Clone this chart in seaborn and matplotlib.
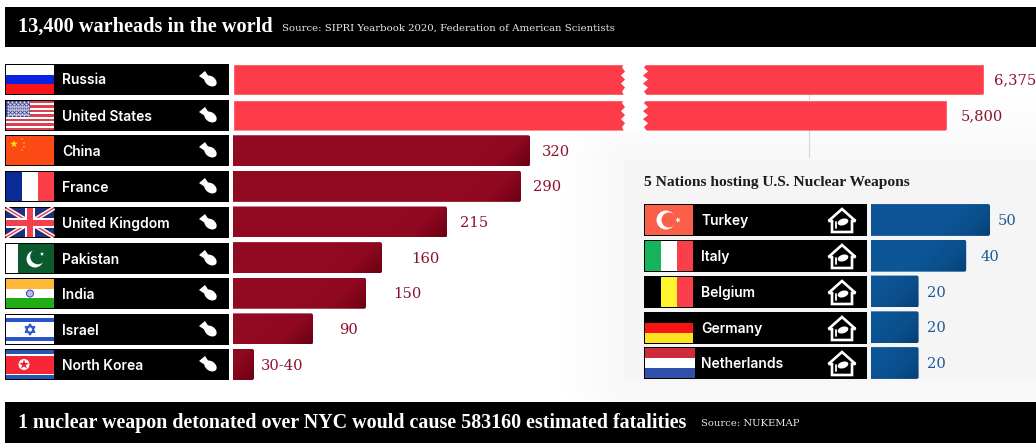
import numpy as np
import pandas as pd
import matplotlib
matplotlib.use('Agg')
import matplotlib.pyplot as plt
from matplotlib.patches import Rectangle, Ellipse, Polygon, Circle, FancyBboxPatch
from matplotlib.colors import LinearSegmentedColormap
import seaborn as sns

# warhead counts
countries = ['Russia', 'United States', 'China', 'France', 'United Kingdom',
             'Pakistan', 'India', 'Israel', 'North Korea']
count_labels = ['6,375', '5,800', '320', '290', '215', '160', '150', '90', '30-40']
# drawn bar lengths, the chart is not to scale
bar_lengths = [751, 714, 297, 288, 214, 149, 133, 80, 21]

# host nations
hosts = ['Turkey', 'Italy', 'Belgium', 'Germany', 'Netherlands']
host_counts = [50, 40, 20, 20, 20]

title = '13,400 warheads in the world'
source = 'Source: SIPRI Yearbook 2020, Federation of American Scientists'
inset_title = '5 Nations hosting U.S. Nuclear Weapons'
footer = '1 nuclear weapon detonated over NYC would cause 583160 estimated fatalities'
footer_source = 'Source: NUKEMAP'

W, H = 1036, 444
HEAD = 'Liberation Serif'
SERIF = 'DejaVu Serif'
SANS = 'Inter'

sns.set_style('white')
fig = plt.figure(figsize=(W / 100, H / 100), dpi=100, facecolor='white')


def pixel_axes(x0, y0, x1, y1):
    # axes placed by pixel box, y counted from the top of the picture
    return fig.add_axes([x0 / W, 1 - y1 / H, (x1 - x0) / W, (y1 - y0) / H])


bg = pixel_axes(0, 0, W, H)
bg.set_xlim(0, W)
bg.set_ylim(H, 0)
bg.axis('off')


def rect(x, y, w, h, color, **kw):
    bg.add_patch(Rectangle((x, y), w, h, facecolor=color, edgecolor='none', **kw))


def fit_text(x, y, s, width, **kw):
    # set the font size so the string spans the wanted number of pixels
    t = bg.text(x, y, s, fontsize=10, va='center', **kw)
    w = t.get_window_extent(fig.canvas.get_renderer()).width
    t.set_fontsize(10 * width / w)
    return t


def star(cx, cy, r, color, rot=-90):
    a = np.deg2rad(rot + np.arange(10) * 36)
    rad = np.where(np.arange(10) % 2 == 0, r, r * 0.4)
    bg.add_patch(Polygon(np.c_[cx + rad * np.cos(a), cy + rad * np.sin(a)],
                         facecolor=color, edgecolor='none', zorder=4))


def hstripes(x, y, w, h, colors):
    for i, c in enumerate(colors):
        rect(x, y + i * h / len(colors), w, h / len(colors), c, zorder=3)


def vstripes(x, y, w, h, colors):
    for i, c in enumerate(colors):
        rect(x + i * w / len(colors), y, w / len(colors), h, c, zorder=3)


def flag_russia(x, y, w, h):
    hstripes(x, y, w, h, ['#ffffff', '#0a22e0', '#f81414'])


def flag_usa(x, y, w, h):
    hstripes(x, y, w, h, ['#d9414f' if i % 2 == 0 else '#ffffff' for i in range(13)])
    rect(x, y, w * 0.5, h * 0.54, '#3d3f8f', zorder=3)
    for i in range(9):
        for j in range(5 if i % 2 else 6):
            bg.plot(x + 2 + j * 4 + (2 if i % 2 else 0), y + 1.5 + i * 1.6, '.',
                    color='white', ms=1, zorder=4)


def flag_china(x, y, w, h):
    rect(x, y, w, h, '#fc4a14', zorder=3)
    star(x + 8, y + 8, 4, '#ffe000')
    for dx, dy in [(16, 3), (18, 7), (18, 11), (16, 14)]:
        star(x + dx, y + dy, 1.2, '#ffe000')


def flag_france(x, y, w, h):
    vstripes(x, y, w, h, ['#0a2a96', '#ffffff', '#fb3f4a'])


def flag_uk(x, y, w, h):
    rect(x, y, w, h, '#20307e', zorder=3)
    for ya, yb in [(y, y + h), (y + h, y)]:
        bg.plot([x, x + w], [ya, yb], color='white', lw=3.2, zorder=4, solid_capstyle='butt')
        bg.plot([x, x + w], [ya, yb], color='#f2404f', lw=1.1, zorder=4, solid_capstyle='butt')
    rect(x + w / 2 - 5, y, 10, h, 'white', zorder=5)
    rect(x, y + h / 2 - 5, w, 10, 'white', zorder=5)
    rect(x + w / 2 - 3, y, 6, h, '#f2404f', zorder=6)
    rect(x, y + h / 2 - 3, w, 6, '#f2404f', zorder=6)


def flag_pakistan(x, y, w, h):
    rect(x, y, w * 0.26, h, 'white', zorder=3)
    rect(x + w * 0.26, y, w * 0.74, h, '#0b5a2e', zorder=3)
    bg.add_patch(Circle((x + 29, y + 15), 8.5, fc='white', ec='none', zorder=4))
    bg.add_patch(Circle((x + 32, y + 12.5), 7.8, fc='#0b5a2e', ec='none', zorder=4))
    star(x + 36, y + 10, 2.2, 'white')


def flag_india(x, y, w, h):
    hstripes(x, y, w, h, ['#ffb93a', '#ffffff', '#1fae16'])
    bg.add_patch(Circle((x + 24, y + h / 2), 3.5, fc='#b8b8f0', ec='#3a3aa8', lw=0.7, zorder=4))


def flag_israel(x, y, w, h):
    rect(x, y, w, h, 'white', zorder=3)
    rect(x, y + 3, w, 4, '#2a55c8', zorder=4)
    rect(x, y + h - 7, w, 4, '#2a55c8', zorder=4)
    for rot in (-90, 90):
        a = np.deg2rad(rot + np.arange(3) * 120)
        bg.add_patch(Polygon(np.c_[x + 24 + 5.5 * np.cos(a), y + h / 2 + 5.5 * np.sin(a)],
                             fill=False, ec='#2a55c8', lw=1.1, zorder=4))


def flag_nkorea(x, y, w, h):
    rect(x, y, w, h, '#2458b0', zorder=3)
    rect(x, y + 4, w, h - 8, 'white', zorder=3)
    rect(x, y + 5.5, w, h - 11, '#f72535', zorder=3)
    bg.add_patch(Circle((x + 18, y + h / 2), 5.5, fc='white', ec='none', zorder=4))
    star(x + 18, y + h / 2, 5, '#e82030')


def flag_turkey(x, y, w, h):
    rect(x, y, w, h, '#fb5f49', zorder=3)
    bg.add_patch(Circle((x + 21, y + h / 2), 9.5, fc='white', ec='none', zorder=4))
    bg.add_patch(Circle((x + 24, y + h / 2), 7.5, fc='#fb5f49', ec='none', zorder=4))
    star(x + 33, y + h / 2, 3, 'white', rot=180)


def flag_italy(x, y, w, h):
    vstripes(x, y, w, h, ['#16b45a', '#ffffff', '#fb3f4a'])


def flag_belgium(x, y, w, h):
    vstripes(x, y, w, h, ['#000000', '#fff52e', '#fb3f4a'])


def flag_germany(x, y, w, h):
    hstripes(x, y, w, h, ['#000000', '#f81414', '#fbe222'])


def flag_netherlands(x, y, w, h):
    hstripes(x, y, w + 2, h, ['#cf2a3c', '#ffffff', '#3050ac'])


def bomb(cx, cy):
    # small bomb on the label strip
    bg.add_patch(Ellipse((cx + 2.5, cy + 2), 13.5, 9.5, angle=35, fc='white', ec='none', zorder=4))
    bg.add_patch(Polygon([(cx - 9, cy - 3), (cx - 3, cy - 8), (cx + 1, cy - 2), (cx - 3, cy + 1)],
                         fc='white', ec='none', zorder=4))


def house(cx, cy):
    # bomb inside a house outline
    bg.plot(cx + np.array([-10, -13.5, 0, 13.5, 10, 10, -10, -10]),
            cy + np.array([1, 1, -11, 1, 1, 12, 12, 1]),
            color='white', lw=1.9, zorder=4, solid_joinstyle='miter')
    bg.add_patch(Ellipse((cx + 1, cy + 2), 11, 6.5, angle=-18, fc='white', ec='none', zorder=4))
    bg.plot([cx - 6, cx - 6], [cy + 2, cy + 8], color='white', lw=1.3, zorder=4)


# soft grey around the inset panel
gx, gy = np.meshgrid(np.arange(W), np.arange(H))
dx = np.maximum(625 - gx, 0)
dy = np.maximum(161 - gy, 0) + np.maximum(gy - 381, 0)
glow = np.clip(1 - np.hypot(dx, dy) / 60.0, 0, 1)
shade = LinearSegmentedColormap.from_list('shade', ['#ffffff', '#f8f8f8'])
bg.imshow(glow, extent=(0, W, H, 0), aspect='auto', cmap=shade, vmin=0, vmax=1, zorder=0)
bg.set_xlim(0, W)
bg.set_ylim(H, 0)

# header, footer, inset panel
rect(5, 7, W - 5, 40, 'black', zorder=1)
rect(5, 402, W - 5, 41, 'black', zorder=1)
rect(625, 161, W - 625, 220, '#f5f5f5', zorder=1)
bg.plot([809, 809], [95, 157], color='#d6d6d6', lw=0.8, zorder=1)

fit_text(18, 27, title, 254, color='white', family=HEAD, weight='bold', zorder=2)
fit_text(282, 28.5, source, 335, color='#e8e8e8', family=SERIF, zorder=2)
fit_text(18, 423, footer, 673, color='white', family=HEAD, weight='bold', zorder=2)
fit_text(701, 423.5, footer_source, 98, color='#e8e8e8', family=SERIF, zorder=2)
fit_text(644, 182, inset_title, 266, color='#1c1c1c', family=HEAD, weight='bold', zorder=2)

# label strips
main_tops = [64, 100, 135, 171, 207, 243, 278, 314, 349]
main_flags = [flag_russia, flag_usa, flag_china, flag_france, flag_uk,
              flag_pakistan, flag_india, flag_israel, flag_nkorea]
for name, top, fl in zip(countries, main_tops, main_flags):
    rect(5, top, 224, 31, 'black', zorder=2)
    fl(6, top + 1, 48, 29)
    bg.text(62, top + 16.5, name, color='white', family=SANS, weight='semibold',
            fontsize=10, va='center', zorder=4)
    bomb(208, top + 15)

host_tops = [204, 240, 276, 312, 347]
host_flags = [flag_turkey, flag_italy, flag_belgium, flag_germany, flag_netherlands]
for name, top, fl in zip(hosts, host_tops, host_flags):
    rect(644, top, 223, 32, 'black', zorder=2)
    fl(645, top + 1, 48, 30)
    bg.text(701, top + 16.5, name, color='white', family=SANS, weight='semibold',
            fontsize=10, va='center', zorder=4)
    house(842, top + 16)

dark_red = LinearSegmentedColormap.from_list('dr', ['#920a22', '#8e0820', '#6a0012'])
dark_blue = LinearSegmentedColormap.from_list('db', ['#0c5596', '#0a4e8c', '#073f74'])


def gradient_bar(ax, patch, cmap, px_x, px_y, reach):
    # diagonal shade toward the lower right corner, clipped to a bar rounded on the right
    x, y, w, h = patch.get_x(), patch.get_y(), patch.get_width(), patch.get_height()
    nx, ny = max(int(w * px_x), 2), 32
    gx, gy = np.meshgrid(np.arange(nx), np.arange(ny))
    t = np.clip(1 - ((nx - gx) + (ny - gy)) / reach, 0, 1)
    im = ax.imshow(t, extent=(x, x + w, y + h, y), aspect='auto', cmap=cmap, vmin=0, vmax=1,
                   interpolation='bilinear', zorder=3)
    round_clip(ax, patch, px_x, px_y, im)
    patch.set_visible(False)


def round_clip(ax, patch, px_x, px_y, artist):
    x, y, w, h = patch.get_x(), patch.get_y(), patch.get_width(), patch.get_height()
    clip = FancyBboxPatch((x - 5 / px_x, y + 2 / px_y), w + 3 / px_x, h - 4 / px_y,
                          boxstyle='round,pad=%g,rounding_size=%g' % (2 / px_x, 2 / px_x),
                          mutation_aspect=px_x / px_y,
                          transform=ax.transData, fc='none', ec='none')
    ax.add_patch(clip)
    artist.set_clip_path(clip)


# main bars, rows 35.6 px apart
main_df = pd.DataFrame({'country': countries, 'length': bar_lengths})
ax = pixel_axes(233, 79.5 - 17.8, W, 364.5 + 17.8)
ax.patch.set_alpha(0)
sns.barplot(data=main_df, y='country', x='length', color='#fe3b49', width=0.87,
            saturation=1, ax=ax)
ax.set_xlim(0, W - 233)
ax.set_ylim(8.5, -0.5)
ax.axis('off')
for i, p in enumerate(list(ax.patches)):
    if i >= 2:
        gradient_bar(ax, p, dark_red, 1, 35.6, 75.0)
    else:
        p.set_zorder(3)
        round_clip(ax, p, 1, 35.6, p)
ax.set_xlim(0, W - 233)
ax.set_ylim(8.5, -0.5)

# the axis break on the two long bars
for i in range(2):
    ys = i + np.linspace(-0.45, 0.45, 9)
    left = 389 + np.array([2, 0, 3, -1, 3, -1, 3, 0, 2])
    right = 411 + np.array([3, 0, 4, -1, 4, -1, 4, 0, 3])
    ax.fill(np.r_[left, right[::-1]], np.r_[ys, ys[::-1]], color='white', zorder=4, lw=0)

label_gaps = [10, 14, 12, 12, 13, 29, 27, 26, 7]
for i, (lab, ln, gap) in enumerate(zip(count_labels, bar_lengths, label_gaps)):
    ax.text(ln + gap, i + 0.03, lab, color='#8e1230', family=SERIF, fontsize=10.6,
            va='center', ha='left', zorder=5, clip_on=False)

# inset bars, 2.38 px per warhead
host_df = pd.DataFrame({'country': hosts, 'warheads': host_counts})
ax2 = pixel_axes(871, 220 - 17.9, W, 363 + 17.9)
ax2.patch.set_alpha(0)
sns.barplot(data=host_df, y='country', x='warheads', color='#0c5596', width=0.89,
            saturation=1, ax=ax2)
ax2.set_xlim(0, (W - 871) / 2.38)
ax2.set_ylim(4.5, -0.5)
ax2.axis('off')
for p in list(ax2.patches):
    gradient_bar(ax2, p, dark_blue, 2.38, 35.8, 60.0)
ax2.set_xlim(0, (W - 871) / 2.38)
ax2.set_ylim(4.5, -0.5)

host_gaps = [3.4, 5.9, 3.4, 3.4, 3.4]
for i, (v, gap) in enumerate(zip(host_counts, host_gaps)):
    ax2.text(v + gap, i + 0.03, str(v), color='#1d5a94', family=SERIF, fontsize=10.6,
             va='center', ha='left', zorder=5)

fig.savefig('out.png', dpi=100, facecolor='white')
